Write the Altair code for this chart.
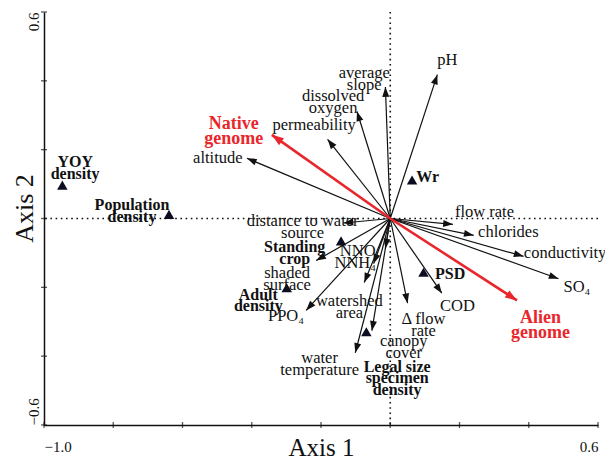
import math
import altair as alt
import pandas as pd

# ---- environmental vectors (arrow tips) ----
vec_names = ["pH", "average slope", "dissolved oxygen", "permeability", "altitude",
             "distance to water source", "shaded surface", "PPO4", "NNO", "NNH4",
             "watershed area", "water temperature", "canopy cover", "delta flow rate",
             "COD", "SO4", "conductivity", "chlorides", "flow rate"]
vec_x = [0.136, -0.014, -0.096, -0.181, -0.414, -0.135, -0.214, -0.243, -0.014, -0.048,
         -0.075, -0.101, -0.053, 0.050, 0.149, 0.486, 0.385, 0.241, 0.181]
vec_y = [0.418, 0.382, 0.311, 0.230, 0.175, -0.013, -0.122, -0.267, -0.087, -0.131,
         -0.186, -0.390, -0.326, -0.246, -0.217, -0.175, -0.110, -0.049, -0.017]

# ---- genome vectors (red) ----
gen_names = ["Native genome", "Alien genome"]
gen_x = [-0.342, 0.366]
gen_y = [0.243, -0.238]

# ---- population descriptors (triangles) ----
pt_names = ["YOY density", "Population density", "Standing crop", "Adult density",
            "Wr", "PSD", "Legal size specimen density"]
pt_x = [-0.947, -0.639, -0.142, -0.299, 0.063, 0.096, -0.069]
pt_y = [0.097, 0.012, -0.065, -0.201, 0.112, -0.156, -0.329]

# ---- labels ----
reg_text = ["pH", "average\nslope", "dissolved\noxygen", "permeability", "altitude",
            "distance to water\nsource", "shaded\nsurface", "PPO₄", "NNO", "NNH₄",
            "watershed\narea", "water\ntemperature", "canopy\ncover", "Δ flow\nrate",
            "COD", "SO₄", "conductivity", "chlorides", "flow rate"]
reg_x = [0.165, -0.075, -0.165, -0.220, -0.498, -0.253, -0.298, -0.301, -0.094, -0.101,
         -0.118, -0.204, 0.039, 0.096, 0.194, 0.539, 0.505, 0.341, 0.272]
reg_y = [0.461, 0.423, 0.355, 0.271, 0.177, -0.008, -0.157, -0.282, -0.094, -0.130,
         -0.240, -0.406, -0.355, -0.292, -0.253, -0.199, -0.101, -0.040, 0.019]

bold_text = ["YOY\ndensity", "Population\ndensity", "Standing\ncrop", "Adult\ndensity",
             "Wr", "PSD", "Legal size\nspecimen\ndensity"]
bold_x = [-0.910, -0.746, -0.276, -0.381, 0.108, 0.173, 0.020]
bold_y = [0.163, 0.039, -0.084, -0.222, 0.121, -0.162, -0.431]

red_text = ["Native\ngenome", "Alien\ngenome"]
red_x = [-0.452, 0.434]
red_y = [0.276, -0.288]

x_ticks = [-1.0, -0.8, -0.6, -0.4, -0.2, 0.0, 0.2, 0.4, 0.6]
y_ticks = [-0.6, -0.4, -0.2, 0.0, 0.2, 0.4, 0.6]

W, H = 554, 413
FONT = "Liberation Serif"
INK = "#111111"
RED = "#e8262b"

xs = alt.Scale(domain=[-1.0, 0.6], nice=False, zero=False)
ys = alt.Scale(domain=[-0.6, 0.6], nice=False, zero=False)

xax = alt.Axis(values=[-1.0, 0.6], format=".1f", labelFlush=True, ticks=False, tickSize=0,
               grid=False, labelOverlap=False, labelFont=FONT, labelFontSize=15,
               labelPadding=14, labelColor=INK, domainColor=INK, domainWidth=1.5,
               title="Axis 1", titleFont=FONT, titleFontSize=25, titleFontWeight="normal",
               titleColor=INK, titleX=W / 2, titleY=30, titleBaseline="alphabetic",
               titleAlign="center")
yax = alt.Axis(values=[-0.6, 0.6], format=".1f", labelFlush=False, ticks=False, tickSize=0,
               grid=False, labelOverlap=False, labelAngle=270,
               labelAlign=alt.ExprRef(expr="datum.value > 0 ? 'right' : 'left'"),
               labelBaseline="alphabetic", labelFont=FONT, labelFontSize=15,
               labelPadding=6, labelColor=INK, domainColor=INK, domainWidth=1.5,
               title="Axis 2", titleFont=FONT, titleFontSize=26, titleFontWeight="normal",
               titleColor=INK, titleAngle=270, titleX=-12, titleY=196,
               titleBaseline="alphabetic", titleAlign="center")


def X(f):
    return alt.X(f, type="quantitative", scale=xs, axis=xax)


def Y(f):
    return alt.Y(f, type="quantitative", scale=ys, axis=yax)


kx, ky = W / 1.6, H / 1.2


def heading(a, b):
    return math.degrees(math.atan2(a * kx, b * ky)) % 360


def vec_frame(names, xv, yv):
    df = pd.DataFrame({"name": names, "x": xv, "y": yv})
    df["x0"] = 0.0
    df["y0"] = 0.0
    df["ang"] = [heading(a, b) for a, b in zip(xv, yv)]
    return df


vec = vec_frame(vec_names, vec_x, vec_y)
gen = vec_frame(gen_names, gen_x, gen_y)
pts = pd.DataFrame({"name": pt_names, "x": pt_x, "y": pt_y})
reg = pd.DataFrame({"t": reg_text, "x": reg_x, "y": reg_y})
bold = pd.DataFrame({"t": bold_text, "x": bold_x, "y": bold_y})
red = pd.DataFrame({"t": red_text, "x": red_x, "y": red_y})
xt = pd.DataFrame({"v": x_ticks, "b": -0.6})
yt = pd.DataFrame({"v": y_ticks, "b": -1.0})
zero = pd.DataFrame({"v": [0.0]})

HEAD = "M0,0L-0.36,1L0.36,1Z"

dot_v = alt.Chart(zero).mark_rule(strokeDash=[1.6, 3.6], strokeWidth=1.6, color=INK).encode(x=X("v"))
dot_h = alt.Chart(zero).mark_rule(strokeDash=[1.6, 3.6], strokeWidth=1.6, color=INK).encode(y=Y("v"))

tick_x = alt.Chart(xt).mark_tick(orient="vertical", size=6, thickness=1.3, color=INK).encode(
    x=X("v"), y=Y("b"))
tick_y = alt.Chart(yt).mark_tick(orient="horizontal", size=6, thickness=1.3, color=INK).encode(
    x=X("b"), y=Y("v"))

vec_lines = alt.Chart(vec).mark_rule(strokeWidth=1.2, color=INK).encode(
    x=X("x0"), y=Y("y0"), x2="x", y2="y")
vec_heads = alt.Chart(vec).mark_point(shape=HEAD, filled=True, size=380, opacity=1,
                                      color=INK, strokeWidth=0).encode(
    x=X("x"), y=Y("y"), angle=alt.Angle("ang:Q", scale=None))

gen_lines = alt.Chart(gen).mark_rule(strokeWidth=2.6, color=RED).encode(
    x=X("x0"), y=Y("y0"), x2="x", y2="y")
gen_heads = alt.Chart(gen).mark_point(shape=HEAD, filled=True, size=560, opacity=1,
                                      color=RED, strokeWidth=0).encode(
    x=X("x"), y=Y("y"), angle=alt.Angle("ang:Q", scale=None))

tri = alt.Chart(pts).mark_point(shape="triangle-up", filled=True, size=110, opacity=1,
                                color="#0d0d22").encode(x=X("x"), y=Y("y"))

reg_txt = alt.Chart(reg).mark_text(font=FONT, fontSize=16.5, lineBreak="\n", lineHeight=12,
                                   align="center", baseline="middle", color=INK).encode(
    x=X("x"), y=Y("y"), text="t:N")
bold_txt = alt.Chart(bold).mark_text(font=FONT, fontSize=16, fontWeight="bold", lineBreak="\n",
                                     lineHeight=11.5, align="center", baseline="middle",
                                     color=INK).encode(x=X("x"), y=Y("y"), text="t:N")
red_txt = alt.Chart(red).mark_text(font=FONT, fontSize=18, fontWeight="bold", lineBreak="\n",
                                   lineHeight=15.5, align="center", baseline="middle",
                                   color=RED).encode(x=X("x"), y=Y("y"), text="t:N")

chart = alt.layer(
    dot_v, dot_h, tick_x, tick_y, vec_lines, gen_lines, vec_heads, gen_heads, tri,
    reg_txt, bold_txt, red_txt
).properties(
    width=W, height=H,
    autosize=alt.AutoSizeParams(type="none"),
    padding={"left": 36, "top": 4, "right": 7, "bottom": 36},
    background="white",
).configure_view(stroke=None)

chart.save("out.html", embed_options={"renderer": "svg", "actions": False})
